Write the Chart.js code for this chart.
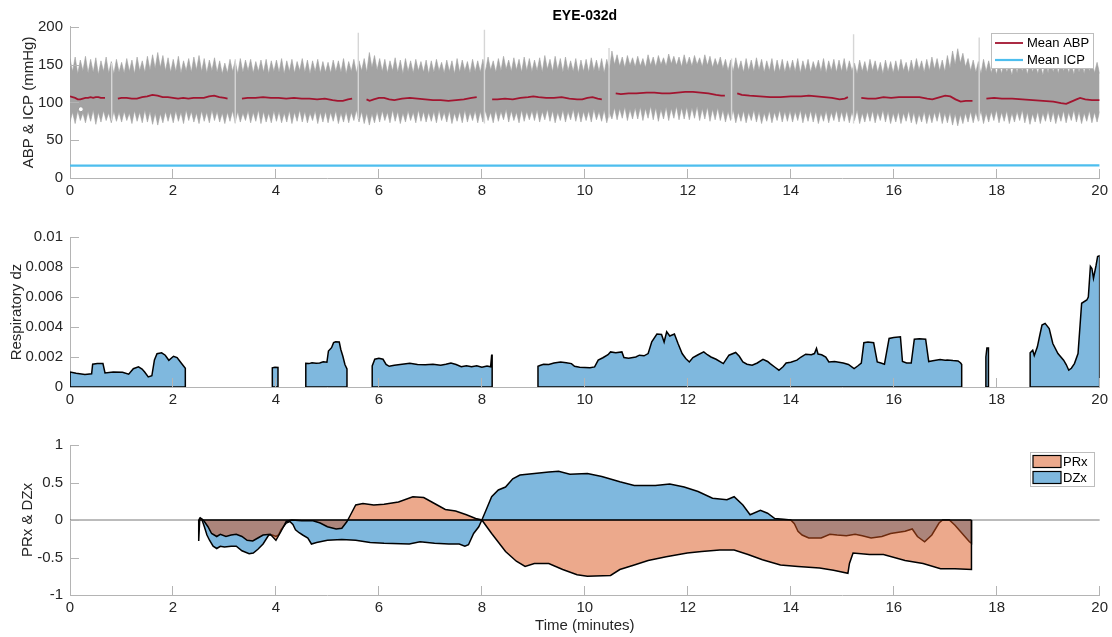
<!DOCTYPE html>
<html>
<head>
<meta charset="utf-8">
<title>EYE-032d</title>
<script src="https://cdn.jsdelivr.net/npm/chart.js"></script>
<style>
  html, body { margin: 0; padding: 0; background: #fff; }
  #wrap { position: relative; width: 1112px; height: 637px; }
  canvas { position: absolute; left: 0; }
</style>
</head>
<body>
<div id="wrap">
  <canvas id="abpChart" width="1112" height="205" style="top:0"></canvas>
  <canvas id="dzChart" width="1112" height="210" style="top:205px"></canvas>
  <canvas id="prxChart" width="1112" height="222" style="top:415px"></canvas>
</div>
<script>
// ---- ABP waveform envelope, one value per respiratory stripe (mmHg) ----
const abpStripeHigh = [
  158,160,156,161,157,159,155,160,154,157, 153,158,156,160,155,161,163,166,162,159,
  157,161,155,158,160,162,158,156,159,155, 152,157,155,158,156,157,154,156,157,155,
  156,158,155,157,154,158,156,155,157,154, 153,156,155,158,154,157,155,158,166,162,
  158,157,155,159,156,158,155,157,154,156, 155,157,153,156,155,158,156,154,157,155,
  157,160,155,158,161,156,159,157,160,158, 156,159,162,157,161,158,160,155,158,156,
  157,159,156,158,157,168,163,160,162,159, 161,158,163,160,162,159,164,161,160,163,
  160,162,159,163,161,158,160,157,156,159, 155,158,156,159,157,155,158,156,157,155,
  156,158,155,157,154,156,158,155,157,156, 158,155,152,156,154,157,155,153,156,154,
  155,157,153,156,158,155,157,160,158,156, 162,168,171,165,158,156,154,157,155,153,
  152,155,150,154,156,152,155,153,151,155, 156,153,157,154,152,156,154,157,155,153
];
const abpNotchHigh = [
  141,138,142,139,140,137,141,139,138,140, 139,141,138,142,140,143,145,146,142,140,
  141,139,142,140,143,141,139,142,140,138, 139,141,138,140,142,139,141,140,138,141,
  140,138,141,139,142,140,138,141,139,140, 139,141,140,138,141,139,142,140,146,143,
  141,139,142,140,138,141,139,142,140,138, 140,142,139,141,138,140,142,139,141,140,
  141,143,140,142,144,141,143,140,142,141, 142,140,144,141,143,140,142,141,139,141,
  140,142,141,139,143,150,148,146,149,147, 148,146,149,147,150,148,151,149,147,149,
  148,150,147,149,146,148,145,142,141,143, 140,142,141,143,140,142,139,141,140,142,
  141,139,142,140,143,141,139,142,140,141, 140,142,138,141,139,142,140,138,141,139,
  140,142,139,141,143,140,142,144,142,141, 145,150,152,147,142,140,138,141,139,137,
  138,140,136,139,141,137,140,138,136,139, 140,138,141,139,137,140,138,141,139,138
];
const abpStripeLow = [
  74,72,76,73,75,71,74,76,73,75, 74,76,72,75,73,74,71,70,73,75,
  73,75,72,76,74,72,75,73,76,74, 72,75,73,74,76,73,75,72,74,73,
  75,73,74,72,75,74,73,76,72,74, 73,75,72,74,73,76,74,72,70,73,
  74,76,73,75,72,74,76,73,75,74, 75,73,76,74,72,75,73,74,76,73,
  74,76,73,75,77,74,76,73,75,77, 76,74,77,75,73,76,74,77,75,74,
  76,74,77,75,73,78,77,79,76,78, 78,76,79,77,75,78,76,79,77,78,
  77,79,76,78,75,77,76,74,76,73, 75,73,76,74,72,75,73,76,74,75,
  74,76,73,75,74,72,75,73,76,74, 75,73,76,72,74,75,73,76,74,72,
  74,72,75,73,71,74,72,73,75,72, 73,70,69,72,74,73,75,72,74,76,
  73,75,72,74,76,73,71,74,72,75, 74,72,75,73,76,74,72,75,73,74
];
const abpNotchLow = [
  87,89,86,88,90,87,89,86,88,87, 88,86,89,87,90,88,86,85,88,87,
  89,87,90,88,86,89,87,90,88,86, 87,89,88,86,89,87,90,88,86,89,
  88,86,89,87,90,88,86,89,87,88, 87,89,86,88,87,90,88,86,85,88,
  89,87,90,88,86,89,87,90,88,87, 88,90,87,89,86,88,90,87,89,88,
  89,87,90,88,91,89,87,90,88,89, 90,88,91,89,87,90,88,91,89,88,
  89,91,88,90,87,93,92,94,91,93, 94,92,95,93,91,94,92,95,93,94,
  93,95,92,94,91,93,90,88,90,87, 89,87,90,88,86,89,87,90,88,89,
  88,90,87,89,88,86,89,87,90,88, 89,87,90,86,88,89,87,90,88,86,
  88,86,89,87,85,88,86,87,89,86, 87,85,84,86,88,87,89,86,88,90,
  87,89,86,88,90,87,85,88,86,89, 88,86,89,87,90,88,86,89,87,88
];
// artefact spikes where the recording restarts (minutes / mmHg)
const spikeTime   = [0.81, 3.21, 5.60, 8.05, 10.47, 12.85, 15.22, 17.66];
const spikeTop    = [152, 157, 192, 196, 172, 158, 190, 186];
const spikeBottom = [76, 72, 78, 72, 80, 78, 72, 76];

// ---- mean ABP / ICP (null = no estimate) ----
const meanAbpTime = [
  0,0.05,0.1,0.15,0.2,0.25,0.3,0.35,0.4,0.45,0.5,0.55,0.6,0.68, 0.8,
  0.93,1.0,1.1,1.2,1.3,1.4,1.5,1.6,1.7,1.8,1.9,2.0,2.1,2.2,2.3,2.4,2.5,2.6,2.7,2.8,2.9,3.0,3.06, 3.2,
  3.34,3.45,3.6,3.75,3.9,4.05,4.2,4.35,4.5,4.65,4.8,4.95,5.1,5.2,5.3,5.4,5.48, 5.6,
  5.76,5.82,5.9,6.0,6.1,6.2,6.3,6.45,6.6,6.75,6.9,7.05,7.2,7.35,7.5,7.65,7.8,7.9, 8.05,
  8.2,8.3,8.45,8.6,8.75,8.9,9.0,9.1,9.25,9.4,9.55,9.7,9.85,9.95,10.05,10.15,10.25,10.33, 10.47,
  10.6,10.7,10.85,11.0,11.2,11.35,11.5,11.65,11.8,11.95,12.1,12.25,12.4,12.55,12.65,12.72, 12.85,
  12.96,13.05,13.2,13.4,13.6,13.8,14.0,14.2,14.35,14.5,14.65,14.8,14.95,15.05,15.11, 15.22,
  15.37,15.5,15.65,15.8,15.95,16.1,16.3,16.5,16.65,16.75,16.85,17.0,17.1,17.2,17.3,17.4,17.53, 17.66,
  17.8,17.95,18.1,18.3,18.5,18.7,18.9,19.1,19.25,19.35,19.45,19.55,19.62,19.72,19.85,20.0
];
const meanAbpValue = [
  108,107,106,104,104,105,106,106,107,106,107,107,106,106, null,
  105,106,106,105,105,107,108,110,109,107,107,106,105,106,105,106,106,106,108,109,107,106,105, null,
  105,106,106,107,106,106,105,106,105,105,104,105,103,102,102,104,105, null,
  104,102,104,106,106,104,103,105,106,105,104,103,103,102,103,104,106,107, null,
  104,104,105,104,106,107,108,107,106,106,107,105,104,104,106,107,105,104, null,
  112,111,112,112,113,113,112,112,113,114,114,113,112,110,109,109, null,
  112,110,109,108,107,107,108,108,109,108,107,106,104,105,107, null,
  106,105,105,107,106,107,107,107,105,104,106,109,108,104,101,102,102, null,
  105,106,105,105,104,103,102,101,99,98,101,104,106,104,103,103
];
const icpTime  = [0, 4, 8, 12, 16, 20];
const icpValue = [16.4, 16.5, 16.5, 16.3, 16.6, 16.7];
const markerTime  = [0.21];
const markerValue = [91];

// ---- respiratory dz (each run closes down to zero) ----
const dzTime = [
  0,0,0.12,0.29,0.42,0.44,0.53,0.64,0.68,0.84,1.02,1.14,1.23,1.33,1.40,1.45,1.52,1.59,1.64,1.69,1.78,1.85,1.92,2.01,2.08,2.16,2.24,2.24, 3.0,
  3.93,3.93,3.98,4.04,4.04, 4.3,
  4.58,4.58,4.64,4.70,4.78,4.85,4.92,4.99,5.02,5.08,5.12,5.16,5.23,5.26,5.30,5.34,5.38,5.38, 5.6,
  5.87,5.87,5.92,6.0,6.08,6.14,6.2,6.3,6.45,6.6,6.75,6.9,7.05,7.2,7.3,7.4,7.5,7.6,7.7,7.8,7.9,8.0,8.1,8.17,8.19,8.2,8.2, 8.6,
  9.09,9.09,9.14,9.2,9.3,9.4,9.53,9.64,9.74,9.8,9.9,10.0,10.1,10.19,10.26,10.35,10.45,10.5,10.6,10.72,10.76,10.85,10.99,11.06,11.15,11.23,
  11.3,11.4,11.49,11.54,11.59,11.65,11.74,11.81,11.89,11.96,12.03,12.1,12.2,12.31,12.38,12.45,12.55,12.69,12.8,12.93,13.0,13.07,13.15,13.25,
  13.35,13.46,13.55,13.6,13.7,13.77,13.85,13.91,14.0,14.12,14.2,14.29,14.4,14.46,14.5,14.53,14.6,14.68,14.74,14.85,15.02,15.12,15.23,15.3,
  15.37,15.42,15.5,15.61,15.68,15.75,15.82,15.91,16.0,16.13,16.17,16.25,16.34,16.4,16.5,16.62,16.68,16.76,16.9,17.0,17.04,17.15,17.25,17.3,17.32,17.32, 17.5,
  17.79,17.79,17.81,17.84,17.84, 18.2,
  18.65,18.65,18.7,18.73,18.79,18.84,18.88,18.94,19.02,19.09,19.19,19.3,19.35,19.4,19.45,19.51,19.58,19.65,19.75,19.78,19.82,19.85,19.88,19.93,19.96,20.0,20.0
];
const dzValue = [
  0,0.00100,0.00092,0.00083,0.00088,0.00152,0.00156,0.00156,0.00094,0.00100,0.00098,0.00085,0.00122,0.00134,0.00120,0.00100,0.00067,0.00075,0.00180,0.00222,0.00228,0.00212,0.00178,0.00205,0.00196,0.00160,0.00125,0, null,
  0,0.00128,0.00132,0.00130,0, null,
  0,0.00158,0.00156,0.00162,0.00158,0.00160,0.00168,0.00165,0.00240,0.00262,0.00296,0.00302,0.00300,0.00250,0.00205,0.00150,0.00120,0, null,
  0,0.00140,0.00185,0.00192,0.00185,0.00150,0.00138,0.00145,0.00152,0.00158,0.00150,0.00148,0.00152,0.00145,0.00152,0.00160,0.00150,0.00135,0.00142,0.00135,0.00142,0.00132,0.00140,0.00135,0.00212,0.00212,0, null,
  0,0.00138,0.00145,0.00152,0.00150,0.00160,0.00167,0.00162,0.00156,0.00138,0.00132,0.00130,0.00128,0.00134,0.00179,0.00195,0.00215,0.00234,0.00228,0.00234,0.00196,0.00192,0.00200,0.00212,0.00208,0.00223,
  0.00301,0.00353,0.00350,0.00300,0.00368,0.00340,0.00353,0.00290,0.00223,0.00190,0.00167,0.00196,0.00215,0.00234,0.00215,0.00200,0.00185,0.00156,0.00212,0.00230,0.00205,0.00167,0.00152,0.00145,
  0.00160,0.00185,0.00170,0.00156,0.00130,0.00112,0.00135,0.00160,0.00165,0.00179,0.00200,0.00219,0.00215,0.00223,0.00257,0.00220,0.00215,0.00200,0.00167,0.00170,0.00160,0.00150,0.00123,0.00140,
  0.00160,0.00295,0.00300,0.00295,0.00167,0.00160,0.00152,0.00324,0.00330,0.00335,0.00170,0.00160,0.00160,0.00319,0.00322,0.00319,0.00170,0.00175,0.00183,0.00178,0.00180,0.00176,0.00174,0.00160,0.00150,0, null,
  0,0.00200,0.00260,0.00260,0, null,
  0,0.00228,0.00245,0.00210,0.00268,0.00350,0.00413,0.00424,0.00390,0.00290,0.00223,0.00179,0.00150,0.00112,0.00125,0.00156,0.00223,0.00558,0.00580,0.00600,0.00804,0.00790,0.00725,0.00810,0.00870,0.00875,0
];

// ---- PRx and DZx indices ----
const prxTime = [
  2.50,2.53,2.57,2.61,2.68,2.75,2.85,2.92,3.03,3.13,3.23,3.34,3.44,3.55,3.65,3.75,3.89,4.0,4.1,4.2,4.31,4.5,4.72,4.86,5.0,5.17,5.28,5.38,5.45,
  5.55,5.69,5.9,6.1,6.38,6.66,6.87,7.08,7.29,7.49,7.7,7.88,8.0,8.19,8.46,8.67,8.84,9.02,9.3,9.57,9.85,10.05,10.5,10.68,10.96,11.23,11.58,
  11.99,12.27,12.62,12.9,13.17,13.45,13.8,14.14,14.56,14.83,15.11,15.14,15.21,15.53,15.8,16.22,16.57,16.91,17.19,17.51,17.51
];
const prxValue = [
  0,0.03,0.01,-0.02,-0.09,-0.18,-0.22,-0.19,-0.22,-0.20,-0.19,-0.22,-0.27,-0.28,-0.24,-0.20,-0.19,-0.27,-0.15,-0.02,0,-0.01,-0.01,-0.04,-0.09,-0.12,-0.11,-0.02,0.07,
  0.20,0.22,0.20,0.21,0.24,0.31,0.30,0.22,0.14,0.12,0.07,0.02,0,-0.18,-0.42,-0.55,-0.62,-0.58,-0.58,-0.66,-0.73,-0.75,-0.74,-0.66,-0.60,-0.54,-0.49,
  -0.44,-0.42,-0.40,-0.40,-0.46,-0.53,-0.60,-0.62,-0.64,-0.67,-0.71,-0.58,-0.44,-0.46,-0.46,-0.54,-0.58,-0.65,-0.65,-0.66,0
];
const dzxTime = [
  2.50,2.50,2.52,2.56,2.61,2.66,2.71,2.78,2.85,2.92,3.0,3.13,3.23,3.34,3.48,3.56,3.65,3.75,3.86,3.93,4.0,4.05,4.1,4.2,4.27,4.33,4.38,4.45,4.52,
  4.62,4.69,4.79,5.0,5.28,5.55,5.83,6.1,6.59,6.8,7.08,7.36,7.56,7.67,7.74,7.84,7.94,8.0,8.08,8.19,8.32,8.46,8.6,8.74,9.02,9.3,9.49,9.71,10.05,
  10.33,10.68,10.96,11.37,11.65,11.93,12.2,12.48,12.76,12.9,13.07,13.21,13.41,13.55,13.69,13.86,14.0,14.07,14.14,14.22,14.35,14.59,14.76,14.9,
  15.08,15.25,15.39,15.56,15.77,15.94,16.22,16.36,16.46,16.6,16.74,16.88,16.95,17.08,17.19,17.33,17.47,17.51,17.51
];
const dzxValue = [
  0,-0.28,0.02,0.01,-0.09,-0.20,-0.27,-0.35,-0.38,-0.35,-0.36,-0.35,-0.35,-0.41,-0.45,-0.44,-0.39,-0.32,-0.20,-0.20,-0.22,-0.20,-0.13,-0.04,-0.02,-0.06,-0.13,-0.17,-0.20,
  -0.24,-0.32,-0.30,-0.27,-0.26,-0.27,-0.30,-0.31,-0.32,-0.29,-0.31,-0.32,-0.32,-0.35,-0.33,-0.18,-0.09,0,0.13,0.31,0.40,0.44,0.55,0.60,0.62,0.64,0.65,0.61,0.62,
  0.58,0.51,0.46,0.46,0.48,0.44,0.38,0.29,0.27,0.31,0.20,0.07,0.13,0.09,0.02,0.01,0,-0.05,-0.15,-0.20,-0.24,-0.24,-0.19,-0.20,
  -0.21,-0.19,-0.21,-0.24,-0.22,-0.18,-0.15,-0.12,-0.22,-0.29,-0.20,-0.04,0,0,-0.07,-0.18,-0.29,-0.31,0
];

const FONT = '"Liberation Sans", Arial, Helvetica, sans-serif';
const AXIS = '#b4b4b4';
const TEXT = '#262626';
const BLUE = 'rgba(0,114,189,0.5)';
const ORANGE = 'rgba(217,83,25,0.5)';

Chart.defaults.font.family = FONT;
Chart.defaults.font.size = 15;
Chart.defaults.color = TEXT;
Chart.defaults.animation = false;

const xy = (ts, vs) => ts.map((t, i) => ({x: t, y: vs[i]}));

// stripe peaks and the notches between them, alternating
function interleave(peaks, notches) {
  const out = [];
  peaks.forEach((p, i) => out.push(p, notches[i]));
  return out;
}
const bandHigh = interleave(abpStripeHigh, abpNotchHigh);
const bandLow = interleave(abpStripeLow, abpNotchLow);
const bandStep = 20 / (bandHigh.length - 1);
const bandPts = vals => vals.map((v, i) => ({x: i * bandStep, y: v}));

function spikeLines() {
  const out = [];
  spikeTime.forEach((t, i) => {
    out.push({x: t, y: spikeBottom[i]}, {x: t, y: spikeTop[i]}, {x: t, y: null});
  });
  return out;
}

// black zero edge under every run of a filled series
function runBase(ts, vs) {
  const out = [];
  let start = null;
  ts.forEach((t, i) => {
    if (vs[i] === null) return;
    if (start === null) start = t;
    const next = vs[i + 1];
    if (next === null || next === undefined) {
      out.push({x: start, y: 0}, {x: t, y: 0}, {x: t, y: null});
      start = null;
    }
  });
  return out;
}

const tickFmt = v => String(+Number(v).toFixed(4));

function makeScales(cfg) {
  return {
    x: {
      type: 'linear', min: 0, max: 20,
      ticks: {stepSize: 2, padding: 4, maxRotation: 0, autoSkip: false},
      grid: {display: false, drawTicks: false},
      border: {display: true, color: AXIS, width: 1},
      title: cfg.xTitle
        ? {display: true, text: cfg.xTitle, color: TEXT, padding: {top: 0, bottom: 2}}
        : {display: false},
      afterFit(s) { s.height = cfg.xHeight; }
    },
    y: {
      min: cfg.yMin, max: cfg.yMax,
      ticks: {stepSize: cfg.yStep, padding: 7, callback: tickFmt},
      grid: {display: false, drawTicks: false},
      border: {display: true, color: AXIS, width: 1},
      title: {display: true, text: cfg.yTitle, color: TEXT, padding: {top: cfg.yTitlePad, bottom: 0}},
      afterFit(s) { s.width = 70; }
    }
  };
}

// short tick marks pointing into the plot
const innerTicks = {
  id: 'innerTicks',
  afterDatasetsDraw(chart) {
    const {ctx, chartArea: a, scales: {x, y}} = chart;
    const len = 9;
    ctx.save();
    ctx.strokeStyle = AXIS;
    ctx.lineWidth = 1;
    ctx.beginPath();
    x.ticks.forEach(t => {
      if (t.value === x.min) return;
      const px = Math.round(x.getPixelForValue(t.value)) - 0.5;
      ctx.moveTo(px, a.bottom);
      ctx.lineTo(px, a.bottom - len);
    });
    y.ticks.forEach(t => {
      if (t.value === y.min) return;
      const py = Math.round(y.getPixelForValue(t.value)) + 0.5;
      ctx.moveTo(a.left, py);
      ctx.lineTo(a.left + len, py);
    });
    ctx.stroke();
    ctx.restore();
  }
};

// thin reference line at zero across the whole axis
const zeroLine = {
  id: 'zeroLine',
  beforeDatasetsDraw(chart, args, opts) {
    if (!opts.show) return;
    const {ctx, chartArea: a, scales: {y}} = chart;
    const py = y.getPixelForValue(0);
    ctx.save();
    ctx.strokeStyle = '#555';
    ctx.lineWidth = 0.8;
    ctx.beginPath();
    ctx.moveTo(a.left, py);
    ctx.lineTo(a.right, py);
    ctx.stroke();
    ctx.restore();
  }
};

// boxed legend in the upper right corner of the plot
const boxLegend = {
  id: 'boxLegend',
  afterDraw(chart, args, o) {
    if (!o.items) return;
    const {ctx, chartArea: a} = chart;
    const left = Math.round(a.right - o.right - o.width);
    const top = Math.round(a.top + o.top);
    ctx.save();
    ctx.fillStyle = '#fff';
    ctx.fillRect(left, top, o.width, o.height);
    ctx.strokeStyle = '#bdbdbd';
    ctx.lineWidth = 1;
    ctx.strokeRect(left + 0.5, top + 0.5, o.width, o.height);
    ctx.font = '13px ' + FONT;
    ctx.textBaseline = 'middle';
    o.items.forEach((idx, row) => {
      const ds = chart.data.datasets[idx];
      const cy = top + o.firstRow + row * o.rowGap;
      if (o.kind === 'line') {
        ctx.strokeStyle = ds.borderColor;
        ctx.lineWidth = ds.borderWidth;
        ctx.beginPath();
        ctx.moveTo(left + o.keyFrom, cy);
        ctx.lineTo(left + o.keyTo, cy);
        ctx.stroke();
      } else {
        const h = o.patchH;
        ctx.fillStyle = ds.backgroundColor;
        ctx.fillRect(left + o.keyFrom, cy - h / 2, o.keyTo - o.keyFrom, h);
        ctx.strokeStyle = '#000';
        ctx.lineWidth = 1.2;
        ctx.strokeRect(left + o.keyFrom, cy - h / 2, o.keyTo - o.keyFrom, h);
      }
      ctx.fillStyle = '#000';
      ctx.fillText(ds.label, left + o.textX, cy + 0.5);
    });
    ctx.restore();
  }
};

const line = {pointRadius: 0, tension: 0, spanGaps: false};

// ABP & ICP
new Chart(document.getElementById('abpChart'), {
  type: 'line',
  data: {
    datasets: [
      Object.assign({label: 'Mean ABP', data: xy(meanAbpTime, meanAbpValue),
        borderColor: '#a2142f', borderWidth: 1.8, order: 1}, line),
      Object.assign({label: 'Mean ICP', data: xy(icpTime, icpValue),
        borderColor: '#4dbeee', borderWidth: 2.2, order: 0}, line),
      Object.assign({label: 'ABP', data: bandPts(bandHigh), borderColor: '#a3a3a3',
        borderWidth: 0.6, backgroundColor: '#a3a3a3', fill: '+1', order: 4}, line),
      Object.assign({label: 'ABP low', data: bandPts(bandLow), borderColor: '#a3a3a3',
        borderWidth: 0.6, order: 5}, line),
      Object.assign({label: 'artefact', data: spikeLines(), borderColor: '#d6d6d6',
        borderWidth: 1.4, order: 3}, line),
      {label: 'marker', data: xy(markerTime, markerValue), showLine: false, pointRadius: 2.5,
        pointBackgroundColor: '#fff', pointBorderColor: '#9a9a9a', pointBorderWidth: 1, order: 2}
    ]
  },
  options: {
    responsive: false,
    layout: {padding: {left: 0, right: 9, top: 0, bottom: 0}},
    scales: makeScales({yMin: 0, yMax: 200, yStep: 50, yTitle: 'ABP & ICP (mmHg)', yTitlePad: 20, xHeight: 27}),
    plugins: {
      legend: {display: false},
      tooltip: {enabled: false},
      title: {display: true, text: 'EYE-032d', color: '#000', fullSize: false,
        font: {size: 14, weight: 'bold'}, padding: {top: 8, bottom: 2}},
      boxLegend: {items: [0, 1], kind: 'line', right: 7, top: 6, width: 102, height: 35,
        firstRow: 10, rowGap: 17, keyFrom: 4, keyTo: 32, textX: 36}
    }
  },
  plugins: [innerTicks, boxLegend]
});

// respiratory dz
new Chart(document.getElementById('dzChart'), {
  type: 'line',
  data: {
    datasets: [
      Object.assign({label: 'Respiratory dz', data: xy(dzTime, dzValue), borderColor: '#000',
        borderWidth: 1.5, backgroundColor: BLUE, fill: 'origin', order: 1}, line),
      Object.assign({label: 'base', data: runBase(dzTime, dzValue), borderColor: '#000',
        borderWidth: 1.6, order: 0}, line)
    ]
  },
  options: {
    responsive: false,
    layout: {padding: {left: 0, right: 9, top: 32, bottom: 0}},
    scales: makeScales({yMin: 0, yMax: 0.01, yStep: 0.002, yTitle: 'Respiratory dz', yTitlePad: 8, xHeight: 28}),
    plugins: {legend: {display: false}, tooltip: {enabled: false}}
  },
  plugins: [innerTicks]
});

// PRx & DZx
new Chart(document.getElementById('prxChart'), {
  type: 'line',
  data: {
    datasets: [
      Object.assign({label: 'PRx', data: xy(prxTime, prxValue), borderColor: '#000',
        borderWidth: 1.5, backgroundColor: ORANGE, fill: 'origin', order: 1}, line),
      Object.assign({label: 'DZx', data: xy(dzxTime, dzxValue), borderColor: '#000',
        borderWidth: 1.5, backgroundColor: BLUE, fill: 'origin', order: 2}, line),
      Object.assign({label: 'base', data: runBase(prxTime, prxValue), borderColor: '#000',
        borderWidth: 1.6, order: 0}, line)
    ]
  },
  options: {
    responsive: false,
    layout: {padding: {left: 0, right: 9, top: 30, bottom: 0}},
    scales: makeScales({yMin: -1, yMax: 1, yStep: 0.5, yTitle: 'PRx & DZx', yTitlePad: 18.5,
      xHeight: 42, xTitle: 'Time (minutes)'}),
    plugins: {
      legend: {display: false},
      tooltip: {enabled: false},
      zeroLine: {show: true},
      boxLegend: {items: [0, 1], kind: 'patch', right: 6, top: 7, width: 64, height: 34,
        firstRow: 9.5, rowGap: 16, keyFrom: 3, keyTo: 31, patchH: 12, textX: 33}
    }
  },
  plugins: [innerTicks, zeroLine, boxLegend]
});
</script>
</body>
</html>
